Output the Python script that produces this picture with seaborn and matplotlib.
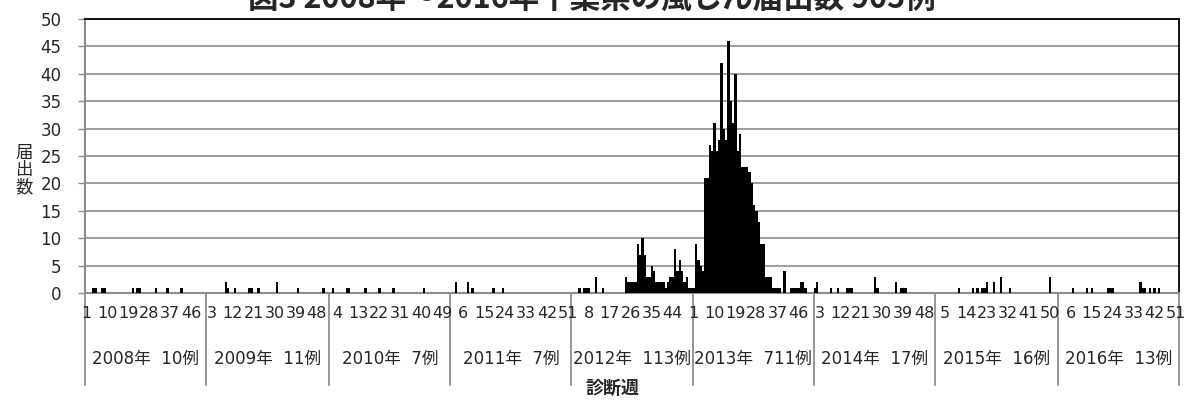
import numpy as np
import pandas as pd
import matplotlib
matplotlib.use("Agg")
import matplotlib.pyplot as plt
import matplotlib.transforms as mtransforms
import seaborn as sns

# weekly rubella notifications, Chiba, one list per year (index = week - 1)
years = [2008, 2009, 2010, 2011, 2012, 2013, 2014, 2015, 2016]
year_totals = [10, 11, 7, 7, 113, 711, 17, 16, 13]

w2008 = [0, 0, 0, 1, 1, 0, 0, 1, 1, 0, 0, 0, 0, 0, 0, 0, 0, 0, 0, 0,
         1, 0, 1, 1, 0, 0, 0, 0, 0, 0, 1, 0, 0, 0, 0, 1, 0, 0, 0, 0,
         0, 1, 0, 0, 0, 0, 0, 0, 0, 0, 0, 0]
w2009 = [0, 0, 0, 0, 0, 0, 0, 0, 2, 1, 0, 0, 1, 0, 0, 0, 0, 0, 1, 1,
         0, 0, 1, 0, 0, 0, 0, 0, 0, 0, 2, 0, 0, 0, 0, 0, 0, 0, 0, 1,
         0, 0, 0, 0, 0, 0, 0, 0, 0, 0, 1, 0, 0]
w2010 = [0, 1, 0, 0, 0, 0, 0, 1, 1, 0, 0, 0, 0, 0, 0, 1, 0, 0, 0, 0,
         0, 1, 0, 0, 0, 0, 0, 1, 0, 0, 0, 0, 0, 0, 0, 0, 0, 0, 0, 0,
         1, 0, 0, 0, 0, 0, 0, 0, 0, 0, 0, 0]
w2011 = [0, 0, 2, 0, 0, 0, 0, 2, 0, 1, 0, 0, 0, 0, 0, 0, 0, 0, 1, 0,
         0, 0, 1, 0, 0, 0, 0, 0, 0, 0, 0, 0, 0, 0, 0, 0, 0, 0, 0, 0,
         0, 0, 0, 0, 0, 0, 0, 0, 0, 0, 0, 0]
w2012 = [0, 0, 0, 1, 0, 1, 1, 1, 0, 0, 3, 0, 0, 1, 0, 0, 0, 0, 0, 0,
         0, 0, 0, 3, 2, 2, 2, 2, 9, 7, 10, 7, 3, 3, 5, 4, 2, 2, 2, 2,
         1, 2, 3, 3, 8, 4, 6, 4, 2, 3, 1, 1]
w2013 = [1, 9, 6, 5, 4, 21, 21, 27, 26, 31, 26, 28, 42, 30, 28, 46, 35, 31, 40, 26,
         29, 23, 23, 23, 22, 20, 16, 15, 13, 9, 9, 3, 3, 3, 1, 1, 1, 1, 0, 4,
         0, 0, 1, 1, 1, 1, 2, 2, 1, 0, 0, 0]
w2014 = [1, 2, 0, 0, 0, 0, 0, 1, 0, 0, 1, 0, 0, 0, 1, 1, 1, 0, 0, 0,
         0, 0, 0, 0, 0, 0, 3, 1, 0, 0, 0, 0, 0, 0, 0, 2, 0, 1, 1, 1,
         0, 0, 0, 0, 0, 0, 0, 0, 0, 0, 0, 0]
w2015 = [0, 0, 0, 0, 0, 0, 0, 0, 0, 0, 1, 0, 0, 0, 0, 0, 1, 0, 1, 0,
         1, 1, 2, 0, 0, 2, 0, 0, 3, 0, 0, 0, 1, 0, 0, 0, 0, 0, 0, 0,
         0, 0, 0, 0, 0, 0, 0, 0, 0, 3, 0, 0, 0]
w2016 = [0, 0, 0, 0, 0, 0, 1, 0, 0, 0, 0, 0, 1, 0, 1, 0, 0, 0, 0, 0,
         0, 1, 1, 1, 0, 0, 0, 0, 0, 0, 0, 0, 0, 0, 0, 2, 1, 1, 0, 1,
         0, 1, 0, 1, 0, 0, 0, 0, 0, 0, 0, 0]

weekly = [w2008, w2009, w2010, w2011, w2012, w2013, w2014, w2015, w2016]
title = "図3 2008年～2016年千葉県の風しん届出数 905例"

rows = []
for yr, vals in zip(years, weekly):
    for i, v in enumerate(vals):
        rows.append({"year": yr, "week": i + 1, "count": v})
df = pd.DataFrame(rows)
df["pos"] = np.arange(len(df))

sns.set_style("white")
plt.rcParams["font.family"] = ["Noto Sans CJK JP", "DejaVu Sans"]
num_font = ["DejaVu Sans", "Noto Sans CJK JP"]

fig = plt.figure(figsize=(11.88, 4.0), dpi=100)
ax = fig.add_axes([85 / 1188, 1 - 293 / 400, (1179 - 85) / 1188, (293 - 19) / 400])

sns.barplot(data=df, x="pos", y="count", color="black", width=1.0,
            saturation=1, linewidth=0, ax=ax, zorder=3)

n = len(df)
ax.set_xlim(-0.5, n - 0.5)
ax.set_ylim(0, 50)
ax.set_yticks(range(0, 51, 5))
ax.set_yticklabels([str(v) for v in range(0, 51, 5)], family=num_font, fontsize=12)
ax.yaxis.grid(True, color="#8c8c8c", linewidth=1.2, zorder=0)
ax.set_axisbelow(True)
ax.tick_params(axis="y", length=5, width=1, color="#8c8c8c", pad=12, left=True)
ax.set_xticks([])
ax.set_xlabel("")
ax.set_ylabel("")
for s in ["top", "right"]:
    ax.spines[s].set_color("black")
    ax.spines[s].set_linewidth(1.3)
for s in ["left", "bottom"]:
    ax.spines[s].set_color("#8c8c8c")
    ax.spines[s].set_linewidth(1.5)

# two-level category axis: week numbers every 9 weeks, then year blocks
trans = mtransforms.blended_transform_factory(ax.transData, fig.transFigure)
for p in range(0, n, 9):
    ax.text(p, 1 - 313 / 400, str(df["week"].iloc[p]), transform=trans,
            ha="center", va="center", fontsize=11.5, family=num_font)

start = 0
for yr, vals, tot in zip(years, weekly, year_totals):
    end = start + len(vals)
    ax.plot([start - 0.5, start - 0.5], [1 - 293 / 400, 1 - 385 / 400],
            transform=trans, clip_on=False, color="#8c8c8c", linewidth=1.3)
    ax.text((start + end - 1) / 2, 1 - 359 / 400, f"{yr}年  {tot}例", transform=trans,
            ha="center", va="center", fontsize=12, family=num_font)
    start = end
ax.plot([n - 0.5, n - 0.5], [1 - 293 / 400, 1 - 385 / 400],
        transform=trans, clip_on=False, color="#8c8c8c", linewidth=1.3)

fig.text(24 / 1188, 1 - 170 / 400, "届\n出\n数", ha="center", va="center",
         fontsize=12.5, linespacing=0.95)
fig.text(612 / 1188, 1 - 388 / 400, "診断週", ha="center", va="center",
         fontsize=13, fontweight="bold")
fig.text(592 / 1188, 1 + 1 / 400, title, ha="center", va="center",
         fontsize=22, fontweight="bold")

fig.savefig("out.png", dpi=100)
